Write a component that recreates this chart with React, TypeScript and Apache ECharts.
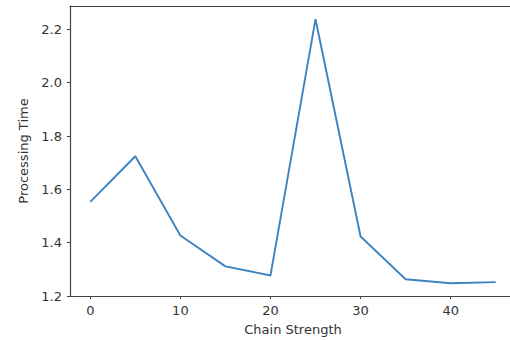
import React, { useEffect, useRef } from "react";
import * as echarts from "echarts";

const chainStrength = [0, 5, 10, 15, 20, 25, 30, 35, 40, 45];
const processingTime = [1.553, 1.724, 1.427, 1.311, 1.277, 2.238, 1.423, 1.263, 1.248, 1.252];
const xTicks = [0, 10, 20, 30, 40];
const yTicks = [1.2, 1.4, 1.6, 1.8, 2.0, 2.2];

const FONT = "DejaVu Sans";
const TEXT = "#333";
const SPINE = "#444";

export default function App() {
  const ref = useRef<HTMLDivElement>(null);
  useEffect(() => {
    document.body.style.overflow = "hidden";
    if (!ref.current) return;
    const chart = echarts.init(ref.current, undefined, { renderer: "svg" });
    const labelStyle = { fontFamily: FONT, fontSize: 13, color: TEXT };
    chart.setOption({
      animation: false,
      grid: { left: 70, top: 6, right: 0, bottom: 44 },
      xAxis: [
        {
          type: "value",
          min: -2.25,
          max: 47.25,
          name: "Chain Strength",
          nameLocation: "middle",
          nameGap: 27,
          nameTextStyle: labelStyle,
          axisLine: { show: true, onZero: false, lineStyle: { color: SPINE, width: 1.2 } },
          splitLine: { show: false },
          axisTick: { show: true, length: 3, customValues: xTicks, lineStyle: { color: SPINE, width: 1 } },
          axisLabel: { ...labelStyle, customValues: xTicks, margin: 8, formatter: (v: number) => String(v) },
        },
        {
          type: "value",
          position: "top",
          min: -2.25,
          max: 47.25,
          axisLine: { show: true, onZero: false, lineStyle: { color: SPINE, width: 1.2 } },
          splitLine: { show: false },
          axisTick: { show: false },
          axisLabel: { show: false },
        },
      ],
      yAxis: {
        type: "value",
        min: 1.2,
        max: 2.2875,
        name: "Processing Time",
        nameLocation: "middle",
        nameGap: 38,
        nameTextStyle: labelStyle,
        axisLine: { show: true, onZero: false, lineStyle: { color: SPINE, width: 1.2 } },
        splitLine: { show: false },
        axisTick: { show: true, length: 3, customValues: yTicks, lineStyle: { color: SPINE, width: 1 } },
        axisLabel: { ...labelStyle, customValues: yTicks, margin: 8, formatter: (v: number) => v.toFixed(1) },
      },
      series: [
        {
          type: "line",
          xAxisIndex: 0,
          data: chainStrength.map((x, i) => [x, processingTime[i]]),
          showSymbol: false,
          symbol: "none",
          lineStyle: { color: "#3d83c0", width: 1.9 },
        },
      ],
    });
    return () => chart.dispose();
  }, []);
  return (
    <div
      ref={ref}
      style={{ position: "fixed", left: 0, top: 0, width: 516, height: 341, background: "#fff" }}
    />
  );
}
